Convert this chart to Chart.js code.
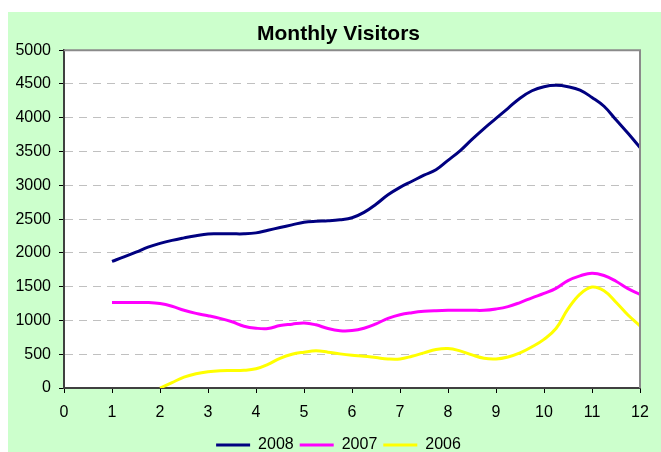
<!DOCTYPE html>
<html>
<head>
<meta charset="utf-8">
<script src="https://cdn.jsdelivr.net/npm/chart.js@4"></script>
<style>
  html, body { margin: 0; padding: 0; background: #fff; overflow: hidden; }
</style>
</head>
<body>
<canvas id="chart" width="661" height="452"></canvas>
<script>
// x positions (month, read at quarter-month steps)
const months = [1, 1.25, 1.5, 1.75, 2, 2.25, 2.5, 2.75, 3, 3.25, 3.5, 3.75, 4, 4.25, 4.5, 4.75,
  5, 5.25, 5.5, 5.75, 6, 6.25, 6.5, 6.75, 7, 7.25, 7.5, 7.75, 8, 8.25, 8.5, 8.75,
  9, 9.25, 9.5, 9.75, 10, 10.25, 10.5, 10.75, 11, 11.25, 11.5, 11.75, 12];

const visitors2008 = [1875, 1940, 2010, 2085, 2140, 2185, 2222, 2255, 2280, 2282, 2282, 2282, 2296, 2335, 2375, 2415,
  2453, 2468, 2475, 2490, 2520, 2600, 2720, 2860, 2970, 3060, 3150, 3230, 3370, 3510, 3680, 3840,
  3990, 4140, 4290, 4400, 4460, 4480, 4460, 4410, 4300, 4170, 3970, 3770, 3560];

const visitors2007 = [1265, 1265, 1265, 1265, 1250, 1210, 1150, 1105, 1070, 1030, 980, 915, 885, 880, 925, 945,
  963, 935, 880, 848, 850, 885, 950, 1030, 1085, 1115, 1135, 1145, 1150, 1150, 1150, 1150,
  1170, 1205, 1265, 1335, 1400, 1475, 1590, 1660, 1700, 1665, 1580, 1470, 1385];

// 2006 starts at month 2
const months2006 = [2, 2.25, 2.5, 2.75, 3, 3.25, 3.5, 3.75, 4, 4.25, 4.5, 4.75,
  5, 5.25, 5.5, 5.75, 6, 6.25, 6.5, 6.75, 7, 7.25, 7.5, 7.75, 8, 8.25, 8.5, 8.75,
  9, 9.25, 9.5, 9.75, 10, 10.25, 10.5, 10.75, 11, 11.25, 11.5, 11.75, 12];
const visitors2006 = [0, 80, 160, 210, 240, 255, 258, 262, 285, 350, 440, 500,
  530, 550, 530, 505, 485, 470, 450, 430, 430, 470, 520, 570, 585, 550, 490, 440,
  430, 460, 520, 610, 720, 880, 1170, 1390, 1495, 1440, 1270, 1080, 920];

const xTicks = [0, 1, 2, 3, 4, 5, 6, 7, 8, 9, 10, 11, 12];
const yTicks = [0, 500, 1000, 1500, 2000, 2500, 3000, 3500, 4000, 4500, 5000];

const seriesNames = ["2008", "2007", "2006"];
const seriesColors = ["#000080", "#ff00ff", "#ffff00"];

const family = 'Arial, "Liberation Sans", sans-serif';
const tickFont = { family, size: 16 };

const toPoints = (xs, ys) => xs.map((x, i) => ({ x, y: ys[i] }));

// green panel, white plot area and grey top/right frame
const framePlugin = {
  id: "frame",
  beforeDraw(chart) {
    const { ctx, chartArea: a } = chart;
    ctx.save();
    ctx.fillStyle = "#ffffff";
    ctx.fillRect(0, 0, chart.width, chart.height);
    ctx.fillStyle = "#ccffcc";
    ctx.fillRect(8, 12, chart.width - 8, chart.height - 12);
    ctx.fillStyle = "#ffffff";
    ctx.fillRect(a.left, a.top, a.right - a.left, a.bottom - a.top);
    ctx.restore();
  },
  afterDraw(chart) {
    const { ctx, chartArea: a } = chart;
    ctx.save();
    ctx.strokeStyle = "#8a8a8a";
    ctx.lineWidth = 2;
    ctx.beginPath();
    ctx.moveTo(a.left, a.top);
    ctx.lineTo(a.right, a.top);
    ctx.lineTo(a.right, a.bottom);
    ctx.stroke();
    ctx.restore();
  },
};

new Chart(document.getElementById("chart"), {
  type: "line",
  data: {
    datasets: [
      { label: seriesNames[0], data: toPoints(months, visitors2008) },
      { label: seriesNames[1], data: toPoints(months, visitors2007) },
      { label: seriesNames[2], data: toPoints(months2006, visitors2006) },
    ].map((d, i) => ({
      ...d,
      borderColor: seriesColors[i],
      backgroundColor: seriesColors[i],
      borderWidth: 3,
      pointRadius: 0,
      tension: 0.4,
      fill: false,
    })),
  },
  options: {
    responsive: false,
    devicePixelRatio: 1,
    animation: false,
    events: [],
    layout: { padding: { left: 16, top: 12, right: 0, bottom: -11 } },
    scales: {
      x: {
        type: "linear",
        min: 0,
        max: 12,
        afterBuildTicks: (s) => { s.ticks = xTicks.map((v) => ({ value: v })); },
        afterFit: (s) => { s.height = 43; s.paddingRight = 21; },
        ticks: { color: "#000", font: tickFont, padding: 10, maxRotation: 0, autoSkip: false },
        grid: { drawOnChartArea: false, drawTicks: true, tickLength: 5, tickColor: "#000", tickWidth: 1 },
        border: { color: "#404040", width: 2 },
      },
      y: {
        min: 0,
        max: 5000,
        afterBuildTicks: (s) => { s.ticks = yTicks.map((v) => ({ value: v })); },
        afterFit: (s) => { s.width = 48; },
        ticks: { color: "#000", font: tickFont, padding: 8, callback: (v) => String(v) },
        grid: {
          color: (c) => (c.tick && (c.tick.value === 0 || c.tick.value === 5000) ? "rgba(0,0,0,0)" : "#c0c0c0"),
          lineWidth: 1,
          tickLength: 5,
          tickColor: "#000",
          tickWidth: 1,
          tickBorderDash: [],
        },
        border: { color: "#404040", width: 2, dash: [8, 6] },
      },
    },
    plugins: {
      title: {
        display: true,
        text: "Monthly Visitors",
        color: "#000",
        font: { family, size: 21, weight: "bold" },
        padding: { top: 10, bottom: 3 },
      },
      legend: {
        position: "bottom",
        labels: {
          color: "#000",
          font: tickFont,
          boxWidth: 34,
          boxHeight: 3,
          padding: 6,
          generateLabels: (chart) =>
            chart.data.datasets.map((d, i) => ({
              text: d.label,
              fillStyle: d.borderColor,
              strokeStyle: d.borderColor,
              lineWidth: 0,
              hidden: false,
              datasetIndex: i,
            })),
        },
      },
      tooltip: { enabled: false },
    },
  },
  plugins: [framePlugin],
});
</script>
</body>
</html>
